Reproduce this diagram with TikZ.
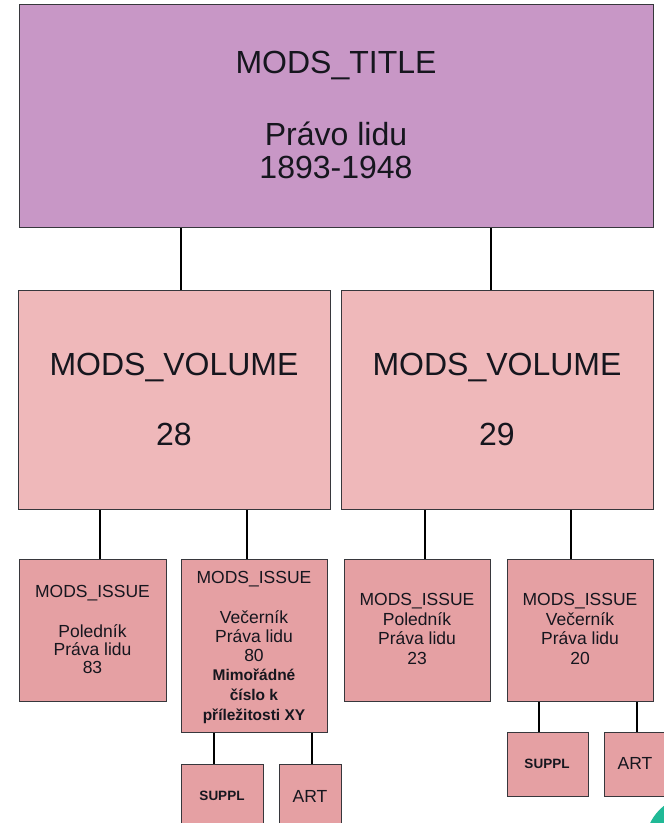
\documentclass[tikz,border=0pt]{standalone}
\usepackage{fontspec}
\setmainfont{Liberation Sans}
\definecolor{titlefill}{RGB}{200,151,198}
\definecolor{volfill}{RGB}{239,184,186}
\definecolor{issuefill}{RGB}{229,160,163}
\definecolor{boxline}{RGB}{55,55,60}
\definecolor{txt}{RGB}{22,22,30}
\definecolor{tealc}{RGB}{32,185,150}
\tikzset{
  box/.style={draw=boxline, line width=1.2pt, inner sep=0pt, anchor=north west},
  conn/.style={draw=black, line width=2.6pt},
  big/.style={font=\fontsize{32}{38}\selectfont, text=txt, anchor=base, inner sep=0pt},
  mid/.style={font=\fontsize{17.5}{20}\selectfont, text=txt, anchor=base, inner sep=0pt},
  midb/.style={font=\fontsize{15.5}{18}\selectfont\bfseries, text=txt, anchor=base, inner sep=0pt},
  smallb/.style={font=\fontsize{13.5}{16}\selectfont\bfseries, text=txt, anchor=base, inner sep=0pt},
}
\begin{document}
\begin{tikzpicture}[x=1pt,y=-1pt]
\clip (0,0) rectangle (664,823);
\fill[white] (0,0) rectangle (664,823);

% boxes
\node[box, fill=titlefill, minimum width=634pt, minimum height=223pt] (title) at (19,4) {};
\node[box, fill=volfill, minimum width=312pt, minimum height=219pt] (vl) at (18,290) {};
\node[box, fill=volfill, minimum width=312pt, minimum height=219pt] (vr) at (341,290) {};
\node[box, fill=issuefill, minimum width=147pt, minimum height=142pt] (i1) at (19,559) {};
\node[box, fill=issuefill, minimum width=146pt, minimum height=173pt] (i2) at (181,559) {};
\node[box, fill=issuefill, minimum width=146pt, minimum height=142pt] (i3) at (344,559) {};
\node[box, fill=issuefill, minimum width=146pt, minimum height=142pt] (i4) at (507,559) {};
\node[box, fill=issuefill, minimum width=82pt, minimum height=80pt] (s2) at (181,764) {};
\node[box, fill=issuefill, minimum width=62pt, minimum height=80pt] (a2) at (279,764) {};
\node[box, fill=issuefill, minimum width=81pt, minimum height=64pt] (s4) at (507,732) {};
\node[box, fill=issuefill, minimum width=70pt, minimum height=64pt] (a4) at (604,732) {};

% connector x positions
\coordinate (x1) at (181,0);
\coordinate (x2) at (491,0);
\coordinate (x3) at (100,0);
\coordinate (x4) at (247,0);
\coordinate (x5) at (425,0);
\coordinate (x6) at (571,0);
\coordinate (x7) at (214,0);
\coordinate (x8) at (312,0);
\coordinate (x9) at (539,0);
\coordinate (x10) at (637,0);

\draw[conn] (title.south -| x1) -- (vl.north -| x1);
\draw[conn] (title.south -| x2) -- (vr.north -| x2);
\draw[conn] (vl.south -| x3) -- (i1.north -| x3);
\draw[conn] (vl.south -| x4) -- (i2.north -| x4);
\draw[conn] (vr.south -| x5) -- (i3.north -| x5);
\draw[conn] (vr.south -| x6) -- (i4.north -| x6);
\draw[conn] (i2.south -| x7) -- (s2.north -| x7);
\draw[conn] (i2.south -| x8) -- (a2.north -| x8);
\draw[conn] (i4.south -| x9) -- (s4.north -| x9);
\draw[conn] (i4.south -| x10) -- (a4.north -| x10);

% title text
\node[big] (tt1) at (336,73) {MODS\_TITLE};
\node[big] (tt2) at (336,145) {Právo lidu};
\node[big] (tt3) at (336,178) {1893-1948};

% volume text
\node[big] (v1a) at (174,375) {MODS\_VOLUME};
\node[big] (v1b) at (174,445) {28};
\node[big] (v2a) at (497,375) {MODS\_VOLUME};
\node[big] (v2b) at (497,445) {29};

% issue 1
\node[mid] (a1) at (92.5,597) {MODS\_ISSUE};
\node[mid] (a1b) at (92.5,637) {Poledník};
\node[mid] (a1c) at (92.5,655) {Práva lidu};
\node[mid] (a1d) at (92.5,673) {83};

% issue 2
\node[mid] (b1) at (254,583) {MODS\_ISSUE};
\node[mid] (b2) at (254,623) {Večerník};
\node[mid] (b3) at (254,642) {Práva lidu};
\node[mid] (b4) at (254,661) {80};
\node[midb] (b5) at (254,680) {Mimořádné};
\node[midb] (b6) at (254,700) {číslo k};
\node[midb] (b7) at (254,720) {příležitosti XY};

% issue 3
\node[mid] (c1) at (417,605) {MODS\_ISSUE};
\node[mid] (c2) at (417,625) {Poledník};
\node[mid] (c3) at (417,644) {Práva lidu};
\node[mid] (c4) at (417,664) {23};

% issue 4
\node[mid] (d1) at (580,605) {MODS\_ISSUE};
\node[mid] (d2) at (580,625) {Večerník};
\node[mid] (d3) at (580,644) {Práva lidu};
\node[mid] (d4) at (580,664) {20};

% leaves
\node[smallb] (s2t) at (222,800) {SUPPL};
\node[mid] (a2t) at (310,802) {ART};
\node[smallb] (s4t) at (547,768) {SUPPL};
\node[mid] (a4t) at (635,769) {ART};

% teal corner shape
\fill[tealc] (695,845) circle (50);
\end{tikzpicture}
\end{document}
